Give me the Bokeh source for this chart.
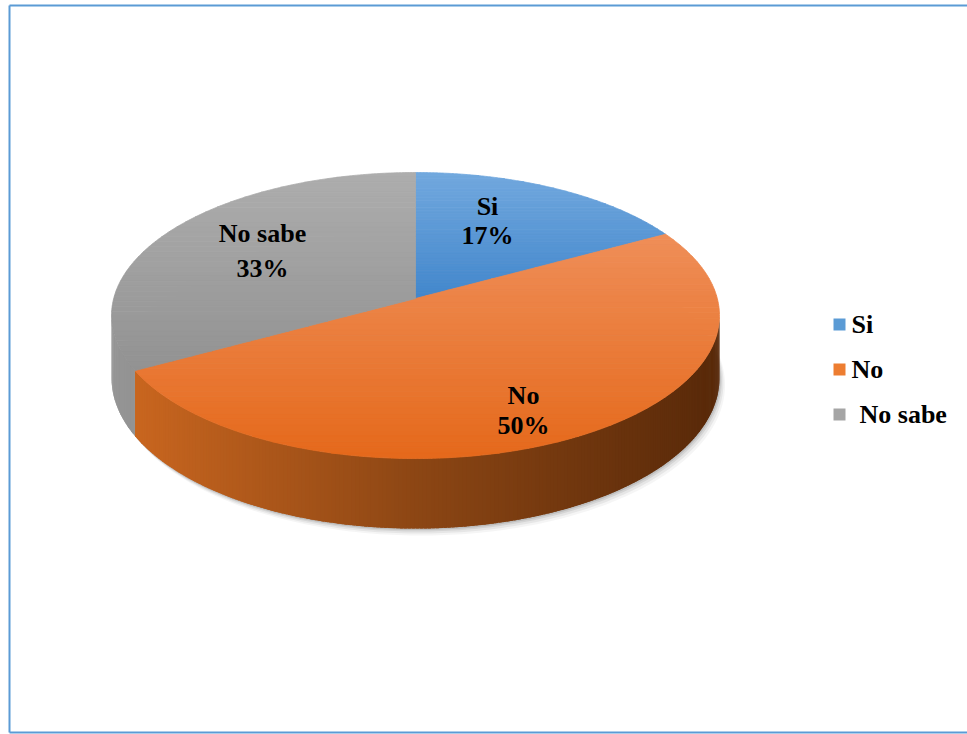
import numpy as np
from bokeh.plotting import figure
from bokeh.models import Range1d
from bokeh.embed import file_html
from bokeh.resources import INLINE
from bokeh.core.properties import value

# ---------------- data ----------------
categories = ["Si", "No", "No sabe"]
percents = [17, 50, 33]
pct_labels = ["17%", "50%", "33%"]

# ---------------- style ----------------
W, H = 967, 734
CX, CY = 415.0, 298.0      # projected pie centre (px)
RX, RY = 301.8, 141.0      # projected radii
K = 0.119                  # perspective factor
DEPTH = 61.7               # thickness
TOP_GRAD = [("#72a8de", "#4287cc"), ("#ef8e58", "#e5691b"), ("#adadad", "#929292")]
SIDE_COL = [None, ["#cd6820", "#8c4614", "#582909"], ["#949494", "#7c7c7c"]]
LEGEND_COL = ["#5b9bd5", "#ed7d31", "#a5a5a5"]
LABEL_POS = [(487, 206, 235), (523, 395, 425), (262, 233, 268)]
LEGEND_TEXT_X = [851, 851, 859]
FONT = "Liberation Serif"
BORDER = "#5b9bd5"


def hex2rgb(h):
    h = h.lstrip("#")
    return np.array([int(h[i:i + 2], 16) for i in (0, 2, 4)], float)


def lerp_col(cols, t):
    t = min(max(t, 0.0), 1.0)
    n = len(cols) - 1
    i = min(int(t * n), n - 1)
    f = t * n - i
    c = hex2rgb(cols[i]) * (1 - f) + hex2rgb(cols[i + 1]) * f
    return "#%02x%02x%02x" % tuple(int(round(v)) for v in c)


def top_pt(deg, f=1.0):
    th = np.radians(deg)
    w = 1 + K * f * np.cos(th)
    return CX + RX * f * np.sin(th) / w, CY - RY * f * np.cos(th) / w, w


def clip(poly, y0, y1):
    def half(pts, keep, inter):
        out = []
        n = len(pts)
        for i in range(n):
            a, b = pts[i], pts[(i + 1) % n]
            ka, kb = keep(a), keep(b)
            if ka:
                out.append(a)
            if ka != kb:
                out.append(inter(a, b))
        return out

    def ix(yc):
        def f(a, b):
            t = (yc - a[1]) / (b[1] - a[1])
            return (a[0] + t * (b[0] - a[0]), yc)
        return f

    pts = half(poly, lambda p_: p_[1] >= y0, ix(y0))
    if not pts:
        return []
    pts = half(pts, lambda p_: p_[1] <= y1, ix(y1))
    return pts


p = figure(width=W, height=H, x_range=Range1d(0, W), y_range=Range1d(H, 0),
           output_backend="svg", toolbar_location=None,
           x_axis_location=None, y_axis_location=None,
           min_border=0, min_border_left=0, min_border_right=0,
           min_border_top=0, min_border_bottom=0)
p.grid.visible = False
p.outline_line_color = None
p.background_fill_color = "white"
p.border_fill_color = "white"

# ---------------- slice angles ----------------
bounds = np.concatenate([[0], np.cumsum(percents)]) / sum(percents) * 360.0

# ---------------- shadow ----------------
angs = np.linspace(0, 360, 361)
for off, al in [(7, 0.04), (5, 0.06), (3, 0.08), (1.5, 0.1)]:
    sx, sy = [], []
    for a in angs:
        x, y, w = top_pt(a)
        sx.append(x + off * 0.8)
        sy.append(y + DEPTH / w + off)
    p.patch(sx, sy, fill_color="black", fill_alpha=al, line_color=None)

# ---------------- sides ----------------
th_r = np.degrees(np.arccos(-K))
th_l = 360 - th_r
for i in range(len(percents)):
    a0, a1 = max(bounds[i], th_r), min(bounds[i + 1], th_l)
    if a1 <= a0 or SIDE_COL[i] is None:
        continue
    steps = np.linspace(a0, a1, max(int((a1 - a0) * 1.5), 2))
    xs, ys, cs = [], [], []
    for j, (s0, s1) in enumerate(zip(steps[:-1], steps[1:])):
        s1e = min(s1 + (s1 - s0) * 0.8, a1)
        x0, y0, w0 = top_pt(s0)
        x1, y1, w1 = top_pt(s1e)
        xs.append([x0, x1, x1, x0])
        ys.append([y0, y1, y1 + DEPTH / w1, y0 + DEPTH / w0])
        t = ((x0 + x1) / 2 - (CX - RX)) / (2 * RX)
        cs.append(lerp_col(SIDE_COL[i], t))
    p.patches(xs, ys, fill_color=cs, line_color=None)

# ---------------- top faces (vertical gradient) ----------------
for i in range(len(percents)):
    arc = np.linspace(bounds[i], bounds[i + 1], 200)
    poly = [(CX, CY)] + [top_pt(a)[:2] for a in arc]
    ymin = min(q[1] for q in poly)
    ymax = max(q[1] for q in poly)
    nb = 40
    edges = np.linspace(ymin, ymax, nb + 1)
    xs, ys, cs = [], [], []
    for b in range(nb):
        c = clip(poly, edges[b], edges[b + 1])
        if len(c) < 3:
            continue
        xs.append([q[0] for q in c])
        ys.append([q[1] for q in c])
        cs.append(lerp_col(TOP_GRAD[i], (b + 0.5) / nb))
    p.patches(xs, ys, fill_color=cs, line_color=cs, line_width=0.8)

# ---------------- data labels ----------------
for i in range(len(percents)):
    lx, ly1, ly2 = LABEL_POS[i]
    p.text([lx], [ly1], text=[categories[i]], text_align="center", text_baseline="middle",
           text_font=value(FONT), text_font_style="bold", text_font_size="26px", text_color="black")
    p.text([lx], [ly2], text=[pct_labels[i]], text_align="center", text_baseline="middle",
           text_font=value(FONT), text_font_style="bold", text_font_size="26px", text_color="black")

# ---------------- legend ----------------
leg_y = [324, 369, 414]
p.scatter([839] * 3, leg_y, marker="square", size=12, fill_color=LEGEND_COL, line_color=None)
p.text(LEGEND_TEXT_X, leg_y, text=categories, text_align="left", text_baseline="middle",
       text_font=value(FONT), text_font_style="bold", text_font_size="26px", text_color="black")

# ---------------- frame ----------------
p.segment(x0=[9, 9, 9], y0=[5, 5, 732], x1=[9, 967, 967], y1=[732, 5, 732],
          line_color=BORDER, line_width=2)

open("out.html", "w").write(file_html(p, INLINE))
